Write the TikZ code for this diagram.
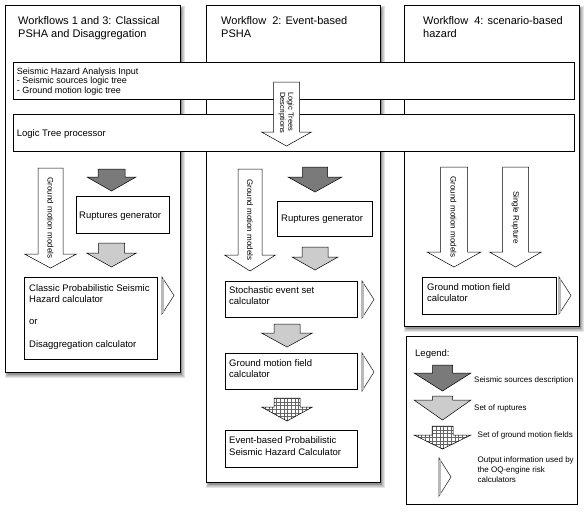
\documentclass[tikz,border=0pt]{standalone}
\usepackage{fontspec}
\setmainfont{Liberation Sans}
% #1 style, #2 cx, #3 ytop, #4 shaft half width, #5 y of head, #6 head half width, #7 y of tip
\newcommand\blockarrow[7]{%
  \path[#1] ({#2-#4},#3) -- ({#2+#4},#3) -- ({#2+#4},#5) -- ({#2+#6},#5) -- (#2,#7)
    -- ({#2-#6},#5) -- ({#2-#4},#5) -- cycle;}
% hatched (grid) block arrow, same arguments without style
\newcommand\gridarrow[6]{%
  \begin{scope}
    \clip ({#1-#3},#2) -- ({#1+#3},#2) -- ({#1+#3},#4) -- ({#1+#5},#4) -- (#1,#6)
      -- ({#1-#5},#4) -- ({#1-#3},#4) -- cycle;
    \foreach \g in {0,...,16}{%
      \draw[black!60,line width=0.3pt] ({#1-#5+\g*3.7},#2) -- ({#1-#5+\g*3.7},#6);
      \draw[black!60,line width=0.3pt] ({#1-#5},{#2+\g*3.7}) -- ({#1+#5},{#2+\g*3.7});}
  \end{scope}
  \blockarrow{draw=black,line width=0.5pt}{#1}{#2}{#3}{#4}{#5}{#6}}
% output triangle: #1 x1, #2 y1, #3 x2, #4 y2
\newcommand\outtri[4]{%
  \path[outtri] (#1,#2) -- (#3,{(#2+#4)/2}) -- (#1,#4) -- cycle;
  \draw[gray!55,line width=1.3pt] ({#1+0.9},{#2+1.5}) -- ({#1+0.9},{#4-1.5});}
% soft shadow behind a panel
\newcommand\softshadow[4]{%
  \foreach \k in {0,...,4}{%
    \fill[black,opacity=0.1] ({#1+3-\k*0.8},{#2+4-\k*0.8}) rectangle ({#3+1.5+\k*0.8},{#4+2.5+\k*0.8});}}
\begin{document}
\begin{tikzpicture}[x=1pt,y=-1pt,
  panel/.style={draw=black,line width=0.9pt,fill=white},
  box/.style={draw=black,line width=0.8pt,fill=white},
  wa/.style={draw=black,line width=0.5pt,fill=white},
  da/.style={draw=black,line width=0.5pt,fill=black!52},
  la/.style={draw=black,line width=0.5pt,fill=black!20},
  outtri/.style={draw=black!80,line width=0.6pt,fill=white},
  title/.style={font=\fontsize{11}{13}\selectfont,inner sep=0pt,align=left,anchor=north west},
  txt/.style={font=\fontsize{9.5}{11.3}\selectfont,inner sep=0pt,align=left},
  small/.style={font=\fontsize{8}{9.7}\selectfont,inner sep=0pt,align=left},
  vtxt/.style={font=\fontsize{8}{9.7}\selectfont,inner sep=0pt,rotate=-90,anchor=center}]
\useasboundingbox (0,0) rectangle (585,512);
\fill[white] (0,0) rectangle (585,512);

% ---------- panels ----------
\softshadow{5}{5}{180}{372}
\softshadow{206}{5}{380}{482}
\softshadow{404}{5}{579}{326}
\draw[panel] (5,5) rectangle (180,372);
\draw[panel] (206,5) rectangle (380,482);
\draw[panel] (404,5) rectangle (579,326);
\draw[draw=black,line width=0.7pt,fill=white] (406,336) rectangle (577,504);

\node[title] (t1) at (18,16) {Workflows 1 and 3: Classical\\PSHA and Disaggregation};
\node[title] (t2) at (221,16) {Workflow\ \ 2: Event-based\\PSHA};
\node[title] (t3) at (423,16) {Workflow\ \ 4: scenario-based\\hazard};

% ---------- panel 1 ----------
\blockarrow{wa}{50.5}{168}{12.5}{254}{26}{268}
\node[vtxt] (gm1) at (50.5,218) {Ground motion models};
\blockarrow{da}{111.5}{169}{13.5}{177}{24.5}{191}
\draw[box] (76,196) rectangle (169,233);
\node[txt,anchor=base west] (rg1) at (79,218.3) {Ruptures generator};
\blockarrow{la}{111.5}{243}{13}{253}{25}{267}
\draw[box] (24,277) rectangle (157,359);
\node[txt,anchor=north west] (calc1) at (29,284) {Classic Probabilistic Seismic\\Hazard calculator\\[11.3pt]or\\[11.3pt]Disaggregation calculator};
\outtri{162}{277}{174}{314}

% ---------- panel 2 ----------
\blockarrow{wa}{250}{169}{12}{255}{25.5}{271}
\node[vtxt] (gm2) at (250,220) {Ground motion models};
\blockarrow{da}{315}{167}{12.5}{177}{27}{192}
\draw[box] (277,201) rectangle (372,236);
\node[txt,anchor=base west] (rg2) at (281,221) {Ruptures generator};
\blockarrow{la}{315}{247}{13}{257}{23}{270}
\draw[box] (225,281) rectangle (357,317);
\node[txt,anchor=north west] (ses) at (229,286) {Stochastic event set\\calculator};
\outtri{362}{281}{374}{318}
\blockarrow{la}{287}{324}{13}{333}{25.5}{347}
\draw[box] (225,353) rectangle (357,389);
\node[txt,anchor=north west] (gmf2) at (229,359) {Ground motion field\\calculator};
\outtri{362}{353}{374}{391}
\gridarrow{287}{398}{13}{407}{25.5}{421}
\draw[box] (225,430) rectangle (357,467);
\node[txt,anchor=north west] (eb) at (229,436.7) {Event-based Probabilistic\\Seismic Hazard Calculator};

% ---------- panel 3 ----------
\blockarrow{wa}{454}{167}{13.5}{252}{27}{267}
\node[vtxt] (gm3) at (453.5,217) {Ground motion models};
\blockarrow{wa}{515.5}{167}{13}{252}{26}{267}
\node[vtxt] (sr) at (515.5,217.5) {Single Rupture};
\draw[box] (422,277) rectangle (556,314);
\node[txt,anchor=north west] (gmf3) at (427,283.3) {Ground motion field\\calculator};
\outtri{559}{277}{571}{314}

% ---------- legend ----------
\node[txt,anchor=base west] (leg) at (415,356.7) {Legend:};
\blockarrow{da}{442.5}{365}{10}{373}{28.5}{391}
\node[small,anchor=base west] (l1) at (474,382.7) {Seismic sources description};
\blockarrow{la}{442.5}{396}{10}{400}{28.5}{420}
\node[small,anchor=base west] (l2) at (474,410) {Set of ruptures};
\gridarrow{442.5}{426}{10.5}{435}{28.5}{449}
\node[small,anchor=base west] (l3) at (477.5,437.3) {Set of ground motion fields};
\outtri{439}{458}{451}{496}
\node[small,anchor=north west] (l4) at (477.5,456.7) {Output information used by\\the OQ-engine risk\\calculators};

% ---------- wide boxes ----------
\draw[box] (13,62) rectangle (574,99);
\node[font=\fontsize{9}{9.7}\selectfont,inner sep=0pt,align=left,anchor=north west] (inp) at (16.7,67.4)
  {Seismic Hazard Analysis Input\\- Seismic sources logic tree\\- Ground motion logic tree};
\draw[box] (13,114) rectangle (574,151);
\node[txt,anchor=base west] (ltp) at (16.7,136.5) {Logic Tree processor};

% ---------- logic tree descriptions arrow ----------
\blockarrow{wa}{286.5}{82}{13}{132}{25}{146}
\node[font=\fontsize{7.5}{8.3}\selectfont,inner sep=0pt,align=left,rotate=-90,anchor=north west] (ltd) at (294,92)
  {Logic Trees\\Descriptions};
\end{tikzpicture}
\end{document}
